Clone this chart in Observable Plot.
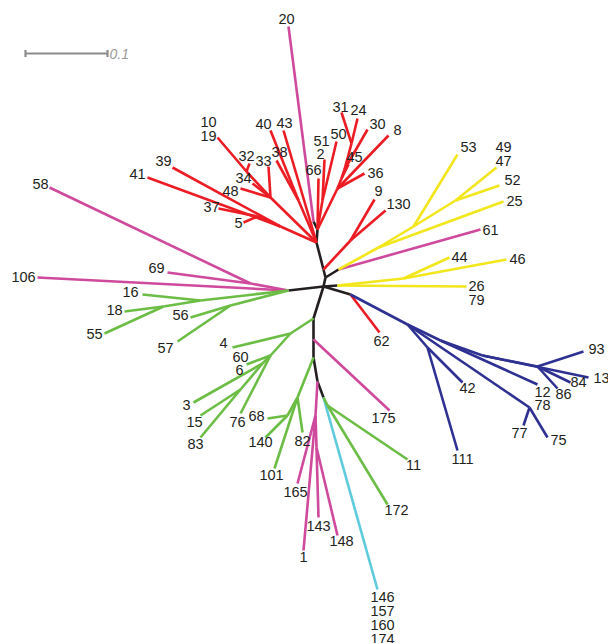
<!DOCTYPE html>
<html>
<head>
<meta charset="utf-8">
<script src="https://cdn.jsdelivr.net/npm/d3@7"></script>
<script src="https://cdn.jsdelivr.net/npm/@observablehq/plot@0.6"></script>
<style>
html,body{margin:0;padding:0;background:#fff;}
#chart svg{display:block;}
</style>
</head>
<body>
<div id="chart"></div>
<script>
// Tree layout: node positions in layout units (unrooted tree drawing)
const nodes = [
  ["A",313,221],["B",317,229],["C",316,242],["D",323,269],["E",325,277],["F",338,269],
  ["G",323,286],["H",288,290],["I",337,285],["J",350,294],["K",313,318],["L",313,339],
  ["M",313,357],["N",317,381],["O",323,397],["O2",327,405],
  // red upper clade
  ["R1",322,200],["P1",337,188],["P2",341,178],["P3",344,169],["P4",351,143],
  ["t66",318,178],["t2",324,159],["t50",336,141],["t8",388,135],["t36",364,173],
  ["t45",348,164],["t30",367,129],["t31",341,112],["t24",357,118],
  // red left fan
  ["Q",270,197],["Q2",246,171],["S",280,226],["V5",257,216],["T",298,200],
  ["t33",268,166],["t34",252,183],["t48",240,188],["t32",249,163],["t19",217,137],
  ["t41",147,177],["t39",172,167],["t37",218,208],["t5",243,222],
  ["t40",270,130],["t38",276,160],["t43",283,130],
  ["t20",288,26],
  // red 9/130
  ["V",350,240],["t9",374,199],["t130",385,210],
  // yellow + 61
  ["Y1",378,247],["Y2",413,226],["Y3",455,200],["Y4",403,278],
  ["t61",480,229],["t25",503,201],["t53",457,154],["t47",496,167],["t52",499,185],
  ["t26",466,286],["t44",449,257],["t46",506,259],
  // red 62 + blue
  ["t62",379,332],["B1",407,324],["B2",427,347],["B3",440,340],["B4",482,355],
  ["B5",529,407],["B6",537,366],
  ["t111",457,450],["t42",462,382],["t12",537,384],["t13",588,377],["t93",583,351],
  ["t84",570,382],["t86",557,388],["t77",523,425],["t75",547,437],
  // left magenta / green
  ["M1",250,283],["G1",200,300],["G2",163,306],["G3",230,305],
  ["t106",37,277],["t58",49,187],["t69",167,272],["t16",142,294],["t18",124,311],
  ["t55",104,333],["t56",190,317],["t57",177,341],
  // green lower-left
  ["L1",290,333],["L2",270,355],["L3",262,363],["L4",240,389],
  ["t4",232,347],["t60",246,364],["t76",240,413],["t3",193,402],["t15",200,415],["t83",200,437],
  // green middle
  ["N1",297,397],["N2",287,415],
  ["t82",302,432],["t101",274,468],["t68",267,418],["t140",265,437],
  // magenta lower
  ["t175",389,410],["Mg1",315,415],["Mg2",316,447],
  ["t165",297,483],["t1",303,550],["t143",318,517],["t148",337,535],
  // cyan + green 11/172
  ["t146",377,589],["t11",407,459],["t172",387,504]
];

const edges = [
  // backbone
  ["A","B","k"],["B","C","k"],["C","D","k"],["D","E","k"],["E","F","k"],["E","G","k"],
  ["G","H","k"],["G","I","k"],["G","J","k"],["G","K","k"],["K","L","k"],["L","M","k"],
  ["M","N","k"],["N","O","k"],
  // magenta 20
  ["A","t20","m"],
  // red upper
  ["B","t66","r"],["B","R1","r"],["R1","t2","r"],["R1","t50","r"],
  ["B","P1","r"],["P1","t8","r"],["P1","t36","r"],["P1","P2","r"],["P2","t45","r"],
  ["P2","P3","r"],["P3","t30","r"],["P3","P4","r"],["P4","t31","r"],["P4","t24","r"],
  // red left fan
  ["C","Q","r"],["Q","t33","r"],["Q","t34","r"],["Q","t48","r"],["Q","Q2","r"],
  ["Q2","t32","r"],["Q2","t19","r"],
  ["C","S","r"],["S","t41","r"],["S","t39","r"],["S","V5","r"],["V5","t37","r"],["V5","t5","r"],
  ["C","T","r"],["T","t40","r"],["T","t38","r"],["C","t43","r"],
  // red 9/130
  ["D","V","r"],["V","t9","r"],["V","t130","r"],
  // magenta 61 + yellow
  ["F","t61","m"],["F","Y1","y"],["Y1","t25","y"],["Y1","Y2","y"],["Y2","t53","y"],
  ["Y2","Y3","y"],["Y3","t47","y"],["Y3","t52","y"],
  ["I","t26","y"],["I","Y4","y"],["Y4","t44","y"],["Y4","t46","y"],
  // red 62 + blue
  ["J","t62","r"],["J","B1","b"],["B1","B2","b"],["B2","t111","b"],["B2","t42","b"],
  ["B1","B5","b"],["B5","t77","b"],["B5","t75","b"],
  ["B1","B3","b"],["B3","t12","b"],["B3","B4","b"],["B4","t13","b"],["B4","B6","b"],
  ["B6","t93","b"],["B6","t84","b"],["B6","t86","b"],
  // left magenta + green
  ["H","t106","m"],["H","M1","m"],["M1","t58","m"],["M1","t69","m"],
  ["H","G1","g"],["G1","t16","g"],["G1","G2","g"],["G2","t18","g"],["G2","t55","g"],
  ["H","G3","g"],["G3","t56","g"],["G3","t57","g"],
  // green lower-left
  ["K","L1","g"],["L1","t4","g"],["L1","L2","g"],["L2","t60","g"],["L2","t76","g"],
  ["L2","L3","g"],["L3","t3","g"],["L3","L4","g"],["L4","t15","g"],["L4","t83","g"],
  // magenta 175
  ["L","t175","m"],
  // green middle
  ["M","N1","g"],["N1","t82","g"],["N1","t101","g"],["N1","N2","g"],["N2","t68","g"],["N2","t140","g"],
  // magenta lower
  ["N","Mg1","m"],["Mg1","t165","m"],["Mg1","t1","m"],["Mg1","Mg2","m"],
  ["Mg2","t143","m"],["Mg2","t148","m"],
  // cyan + green
  ["O","t146","c"],["O","O2","g"],["O2","t11","g"],["O2","t172","g"]
];

const cladeKeys = ["k","r","m","y","b","g","c"];
const cladeColors = ["#231f20","#ec1c24","#cf4a9c","#f2e61c","#2e3192","#6cbd45","#5ecbdd"];

const labels = [
  ["20",286,19],["10",208,122],["19",208,136],["40",263,124],["43",284,123],
  ["31",340,107],["24",358,110],["30",377,124],["8",397,130],["51",321,141],["50",338,134],
  ["2",320,154],["45",354,157],["32",246,156],["33",263,161],["38",279,152],
  ["66",313,170],["36",375,173],["39",163,161],["41",137,174],["34",243,178],["48",230,191],
  ["37",211,207],["5",238,223],["9",378,191],["130",398,204],["58",40,184],
  ["53",468,147],["49",503,147],["47",503,161],["52",512,180],["25",514,201],["61",490,230],
  ["44",459,257],["46",517,259],["26",476,286],["79",476,300],
  ["69",156,268],["106",23,277],["16",130,292],["18",114,310],["56",180,315],["55",94,334],["57",165,348],
  ["4",223,343],["60",240,357],["6",239,370],["62",381,341],
  ["93",596,349],["13",601,378],["84",578,382],["86",563,394],["12",542,392],["78",542,405],
  ["42",467,388],["77",519,433],["75",558,440],["111",462,459],
  ["3",186,405],["15",194,422],["76",237,422],["68",256,416],["83",195,444],["140",260,442],
  ["82",302,441],["101",271,475],["175",383,418],["11",413,465],["165",295,492],["172",396,510],
  ["143",318,526],["148",341,541],["1",303,557],
  ["146",382,597],["157",382,611],["160",382,625],["174",382,639]
];

const scaleBarLength = 0.1;        // branch length shown by the bar
const scaleBar = [[25,53],[107,53]]; // bar ends in layout units

// ---- build
const pos = new Map(nodes.map(([id,x,y]) => [id,{x,y}]));
const linkData = edges.map(([a,b,c]) => ({x1:pos.get(a).x,y1:pos.get(a).y,x2:pos.get(b).x,y2:pos.get(b).y,clade:c}));
const labelData = labels.map(([t,x,y]) => ({t,x,y}));
const bar = [{x1:scaleBar[0][0],y1:scaleBar[0][1],x2:scaleBar[1][0],y2:scaleBar[1][1]}];
const barTicks = scaleBar.map(([x,y]) => ({x1:x,y1:y-3.5,x2:x,y2:y+3.5}));

const chart = Plot.plot({
  width: 608,
  height: 643,
  margin: 0,
  x: {domain:[0,608], range:[0,608], axis:null},
  y: {domain:[0,643], range:[0,643], axis:null},
  color: {domain: cladeKeys, range: cladeColors},
  style: {background:"#fff"},
  marks: [
    Plot.link(linkData, {x1:"x1",y1:"y1",x2:"x2",y2:"y2",stroke:"clade",strokeWidth:2.6,strokeLinecap:"butt"}),
    Plot.link(bar, {x1:"x1",y1:"y1",x2:"x2",y2:"y2",stroke:"#8c8c8c",strokeWidth:2.2}),
    Plot.link(barTicks, {x1:"x1",y1:"y1",x2:"x2",y2:"y2",stroke:"#8c8c8c",strokeWidth:2.2}),
    Plot.text([String(scaleBarLength)], {x:scaleBar[1][0]+2, y:scaleBar[1][1]+1, text:d=>d, textAnchor:"start", fill:"#9a9a9a", fontSize:14, fontStyle:"italic", fontFamily:"Liberation Sans, Arial, sans-serif"}),
    Plot.text(labelData, {x:"x",y:"y",text:"t",fill:"#231f20",fontSize:14.5,fontFamily:"Liberation Sans, Arial, sans-serif"})
  ]
});
document.getElementById("chart").append(chart);
</script>
</body>
</html>
